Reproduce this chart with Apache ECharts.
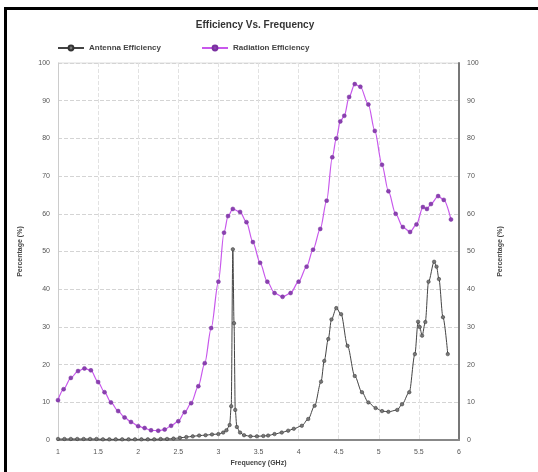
<!DOCTYPE html>
<html>
<head>
<meta charset="utf-8">
<script src="https://cdn.jsdelivr.net/npm/echarts@6/dist/echarts.min.js"></script>
<style>
  html, body { margin: 0; padding: 0; background: #fff; }
  #chart { width: 538px; height: 472px; }
</style>
</head>
<body>
<div id="chart"></div>
<script>
// radiation efficiency (purple)
const freqRad = [1.0, 1.07, 1.16, 1.25, 1.33, 1.41, 1.5, 1.58, 1.66, 1.75,
  1.83, 1.91, 2.0, 2.08, 2.16, 2.25, 2.33, 2.41, 2.5, 2.58,
  2.66, 2.75, 2.83, 2.91, 3.0, 3.07, 3.12, 3.18, 3.27, 3.35,
  3.43, 3.52, 3.61, 3.7, 3.8, 3.9, 4.0, 4.1, 4.18, 4.27,
  4.35, 4.42, 4.47, 4.52, 4.57, 4.63, 4.7, 4.77, 4.87, 4.95,
  5.04, 5.12, 5.21, 5.3, 5.39, 5.47, 5.55, 5.6, 5.65, 5.74,
  5.81, 5.9]
const radEff = [10.6, 13.5, 16.5, 18.3, 19, 18.5, 15.4, 12.7, 10, 7.7,
  6, 4.8, 3.7, 3.2, 2.6, 2.5, 2.8, 3.8, 5, 7.4,
  9.8, 14.3, 20.4, 29.7, 42, 55, 59.4, 61.3, 60.5, 57.8,
  52.5, 47, 42, 39, 38, 39, 42, 46, 50.5, 56,
  63.5, 75, 80, 84.5, 86, 91, 94.4, 93.7, 89, 82,
  73, 66, 60, 56.5, 55.2, 57.2, 61.8, 61.3, 62.6, 64.7,
  63.7, 58.5]

// antenna efficiency (black)
const freqAnt = [1.0, 1.08, 1.16, 1.24, 1.32, 1.4, 1.48, 1.56, 1.64, 1.72,
  1.8, 1.88, 1.96, 2.04, 2.12, 2.2, 2.28, 2.36, 2.44,
  2.52, 2.6, 2.68, 2.76, 2.84, 2.92, 3.0, 3.06, 3.1, 3.14,
  3.16, 3.18, 3.195, 3.21, 3.23, 3.27, 3.32, 3.4, 3.48, 3.56, 3.62,
  3.7, 3.79, 3.87, 3.94, 4.04, 4.12, 4.2, 4.28, 4.32, 4.37,
  4.41, 4.47, 4.53, 4.61, 4.7, 4.79, 4.87, 4.96, 5.04, 5.12,
  5.23, 5.29, 5.38, 5.45, 5.49, 5.51, 5.54, 5.58, 5.62, 5.69,
  5.72, 5.75, 5.8, 5.86]
const antEff = [0.3, 0.3, 0.3, 0.3, 0.3, 0.3, 0.3, 0.2, 0.2, 0.2,
  0.2, 0.2, 0.2, 0.2, 0.2, 0.2, 0.3, 0.3, 0.4,
  0.6, 0.8, 1.0, 1.2, 1.3, 1.5, 1.6, 2.0, 2.6, 4,
  9, 50.6, 31, 8, 3.5, 2, 1.3, 1.0, 1.0, 1.1, 1.2,
  1.6, 2.0, 2.5, 3.0, 3.8, 5.6, 9.1, 15.5, 21, 26.8,
  32, 35, 33.4, 25, 17, 12.7, 10, 8.5, 7.7, 7.5,
  8, 9.5, 12.7, 22.8, 31.4, 30, 27.7, 31.3, 42, 47.3,
  46, 42.7, 32.6, 22.8]

const seriesNames = ['Antenna Efficiency', 'Radiation Efficiency']
const xTitle = 'Frequency (GHz)'
const yTitle = 'Percentage (%)'

const pairs = (xs, ys) => xs.map((x, i) => [x, ys[i]])
const font = 'Liberation Sans, Arial, sans-serif'

const chart = echarts.init(document.getElementById('chart'), null, { renderer: 'canvas' })

const yAxisBase = {
    type: 'value',
    min: 0,
    max: 100,
    interval: 10,
    name: yTitle,
    nameLocation: 'middle',
    nameTextStyle: { fontSize: 7, fontWeight: 'bold', color: '#444', fontFamily: font },
    axisTick: { show: false },
    axisLabel: { fontSize: 7, color: '#555', fontFamily: font },
}

chart.setOption({
    animation: false,
    title: {
        text: 'Efficiency Vs. Frequency',
        left: 250,
        textAlign: 'center',
        top: 15,
        textStyle: { fontSize: 10, fontWeight: 'bold', color: '#333', fontFamily: font }
    },
    legend: {
        left: 52,
        top: 39,
        itemWidth: 26,
        itemHeight: 6,
        itemGap: 40,
        textStyle: { fontSize: 8, fontWeight: 'bold', color: '#444', fontFamily: font },
        data: seriesNames
    },
    grid: { left: 58, right: 79, top: 63, bottom: 31 },
    xAxis: {
        type: 'value',
        min: 1,
        max: 6,
        interval: 0.5,
        name: xTitle,
        nameLocation: 'middle',
        nameGap: 16,
        nameTextStyle: { fontSize: 7, fontWeight: 'bold', color: '#444', fontFamily: font },
        axisLine: { lineStyle: { color: '#888', width: 2 } },
        axisTick: { show: false },
        axisLabel: { fontSize: 7, color: '#555', fontFamily: font, margin: 8 },
        splitLine: { lineStyle: { color: '#e2e2e2', type: 'dashed' } }
    },
    yAxis: [
        Object.assign({}, yAxisBase, {
            position: 'left',
            nameGap: 34,
            axisLine: { show: true, lineStyle: { color: '#ccc', width: 1 } },
            splitLine: { lineStyle: { color: '#d4d4d4', type: 'dashed' } }
        }),
        Object.assign({}, yAxisBase, {
            position: 'right',
            nameGap: 38,
            axisLine: { show: true, lineStyle: { color: '#777', width: 2 } },
            splitLine: { show: false }
        })
    ],
    series: [
        {
            name: seriesNames[0],
            type: 'line',
            data: pairs(freqAnt, antEff),
            smooth: 0.3,
            smoothMonotone: 'x',
            symbol: 'circle',
            symbolSize: 3.5,
            lineStyle: { color: '#444', width: 1 },
            itemStyle: { color: '#777', borderColor: '#333', borderWidth: 0.5 },
            z: 3
        },
        {
            name: seriesNames[1],
            type: 'line',
            data: pairs(freqRad, radEff),
            smooth: 0.3,
            smoothMonotone: 'x',
            symbol: 'circle',
            symbolSize: 4,
            lineStyle: { color: '#c858ec', width: 1.2 },
            itemStyle: { color: '#8a40b0', borderColor: '#7a30a0', borderWidth: 0.5 },
            z: 2
        }
    ],
    graphic: [
        { type: 'rect', shape: { x: 4, y: 7, width: 534, height: 3 }, style: { fill: '#000' } },
        { type: 'rect', shape: { x: 4, y: 7, width: 3, height: 465 }, style: { fill: '#000' } },
        { type: 'line', shape: { x1: 58, y1: 63, x2: 459, y2: 63 }, style: { stroke: '#ddd', lineWidth: 1 } }
    ]
})
</script>
</body>
</html>
